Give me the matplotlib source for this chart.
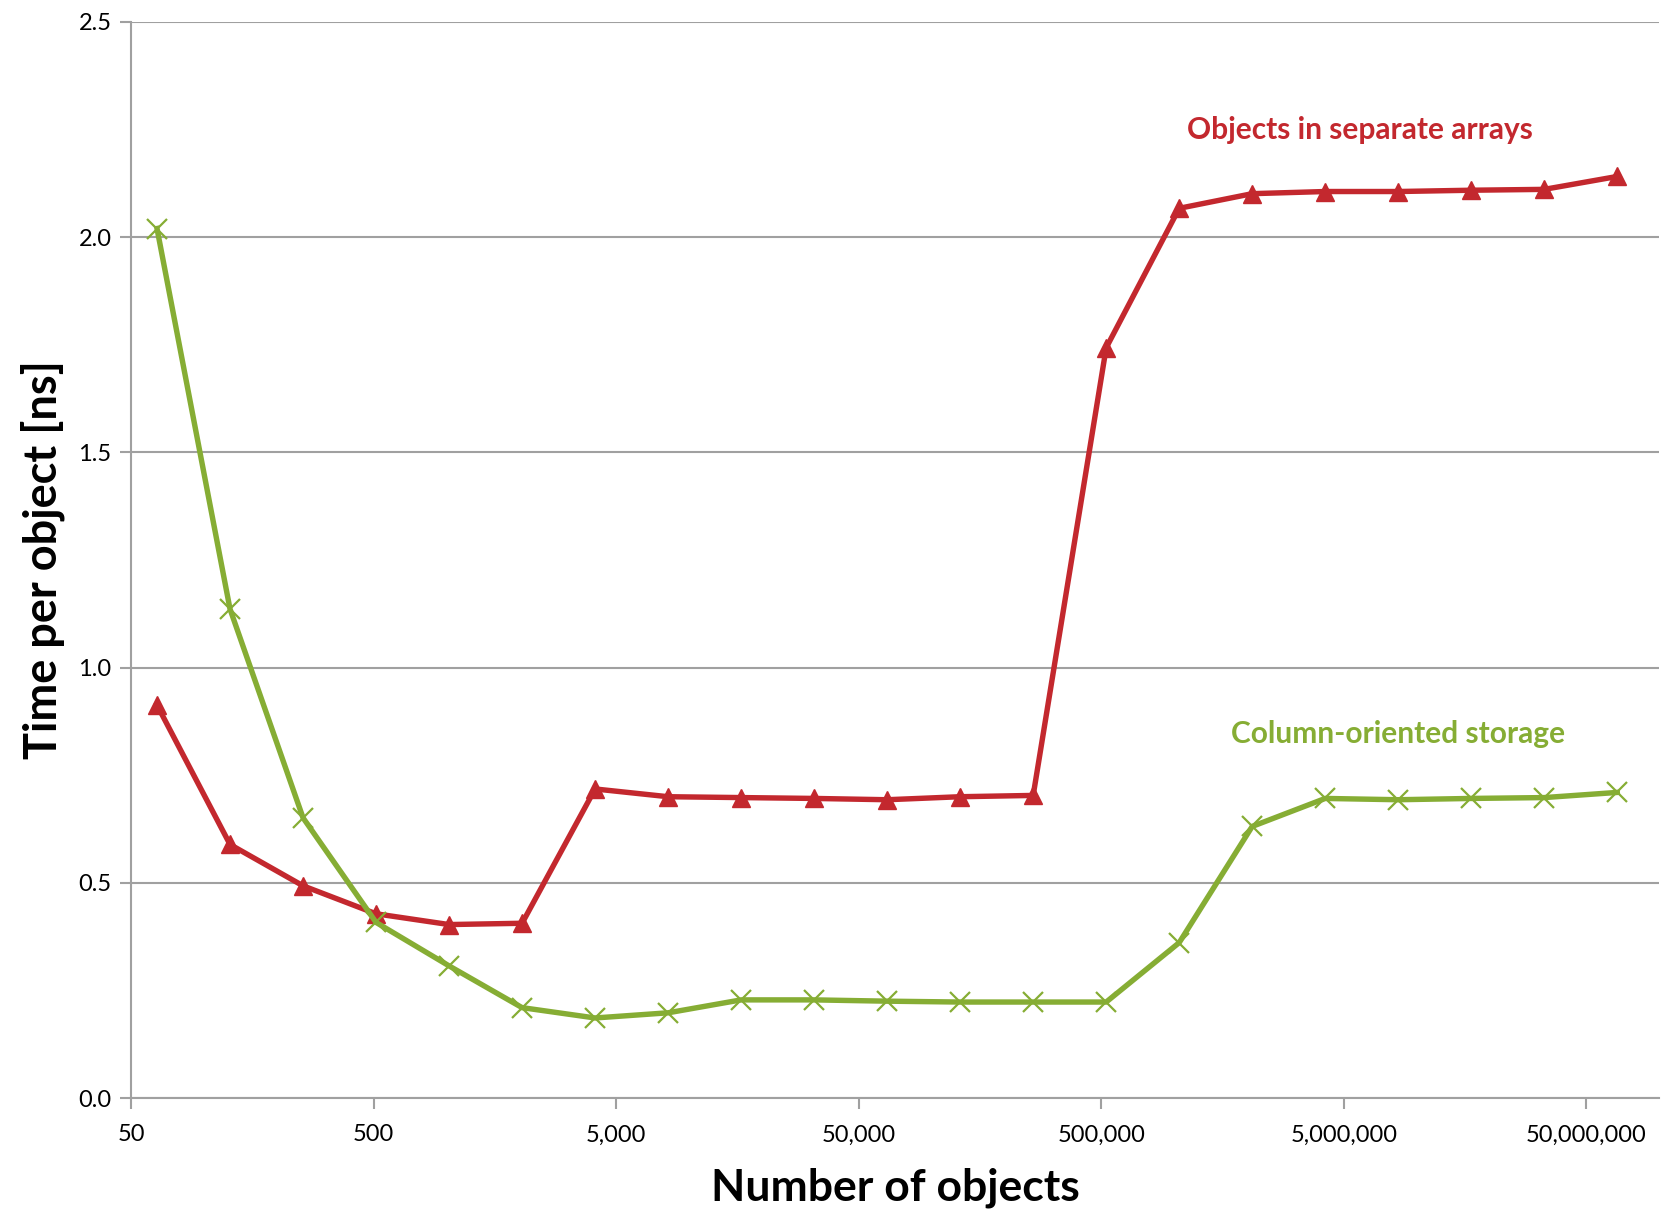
import matplotlib
matplotlib.use("Agg")
import matplotlib.pyplot as plt
from matplotlib.ticker import FixedLocator, FuncFormatter, NullLocator

# Data
n_objects = [64 * 2 ** k for k in range(21)]
separate_arrays = [0.913, 0.589, 0.493, 0.428, 0.403, 0.406, 0.718, 0.700, 0.698, 0.696,
                   0.693, 0.700, 0.703, 1.743, 2.067, 2.101, 2.106, 2.106, 2.109, 2.111, 2.141]
column_oriented = [2.020, 1.136, 0.651, 0.408, 0.307, 0.210, 0.186, 0.198, 0.228, 0.228,
                   0.225, 0.223, 0.223, 0.223, 0.361, 0.631, 0.696, 0.693, 0.696, 0.698, 0.710]
x_ticks = [50, 500, 5000, 50000, 500000, 5000000, 50000000]
y_ticks = [0.0, 0.5, 1.0, 1.5, 2.0, 2.5]

RED = "#C3282E"
GREEN = "#86AD34"
GRID = "#A0A0A0"

plt.rcParams['font.family'] = ['Lato', 'DejaVu Sans']

fig = plt.figure(figsize=(16.71, 12.18), dpi=100)
ax = fig.add_axes([0.0784, 0.0985, 0.9146, 0.8835])

ax.plot(n_objects, separate_arrays, color=RED, lw=3.9, marker='^', markersize=13,
        markerfacecolor=RED, markeredgecolor=RED, zorder=3, clip_on=False)
ax.plot(n_objects, column_oriented, color=GREEN, lw=3.9, marker='x', markersize=14,
        markeredgewidth=1.6, markeredgecolor=GREEN, zorder=3, clip_on=False)

ax.set_xscale('log')
ax.set_xlim(50, 1e8)
ax.set_ylim(0, 2.5)
ax.xaxis.set_major_locator(FixedLocator(x_ticks))
ax.xaxis.set_minor_locator(NullLocator())
ax.xaxis.set_major_formatter(FuncFormatter(lambda v, p: f"{int(round(v)):,}"))
ax.set_yticks(y_ticks)
ax.yaxis.set_major_formatter(FuncFormatter(lambda v, p: f"{v:.1f}"))

ax.grid(axis='y', color=GRID, lw=1.5, zorder=0)
for s in ['top', 'right']:
    ax.spines[s].set_visible(False)
for s in ['left', 'bottom']:
    ax.spines[s].set_color(GRID)
    ax.spines[s].set_linewidth(1.5)
ax.tick_params(axis='both', direction='out', length=8, width=1.5, color=GRID,
               labelsize=17, labelcolor='black')
ax.tick_params(axis='x', pad=11)
ax.tick_params(axis='y', pad=6)

ax.set_xlabel("Number of objects", fontsize=32, fontweight='bold', labelpad=16)
ax.set_ylabel("Time per object [ns]", fontsize=32.5, fontweight='bold', labelpad=10)

ax.text(0.804, 0.900, "Objects in separate arrays", transform=ax.transAxes,
        color=RED, fontsize=21.5, fontweight='bold', ha='center', va='center')
ax.text(0.829, 0.338, "Column-oriented storage", transform=ax.transAxes,
        color=GREEN, fontsize=21.5, fontweight='bold', ha='center', va='center')

fig.savefig("out.png", dpi=100)
